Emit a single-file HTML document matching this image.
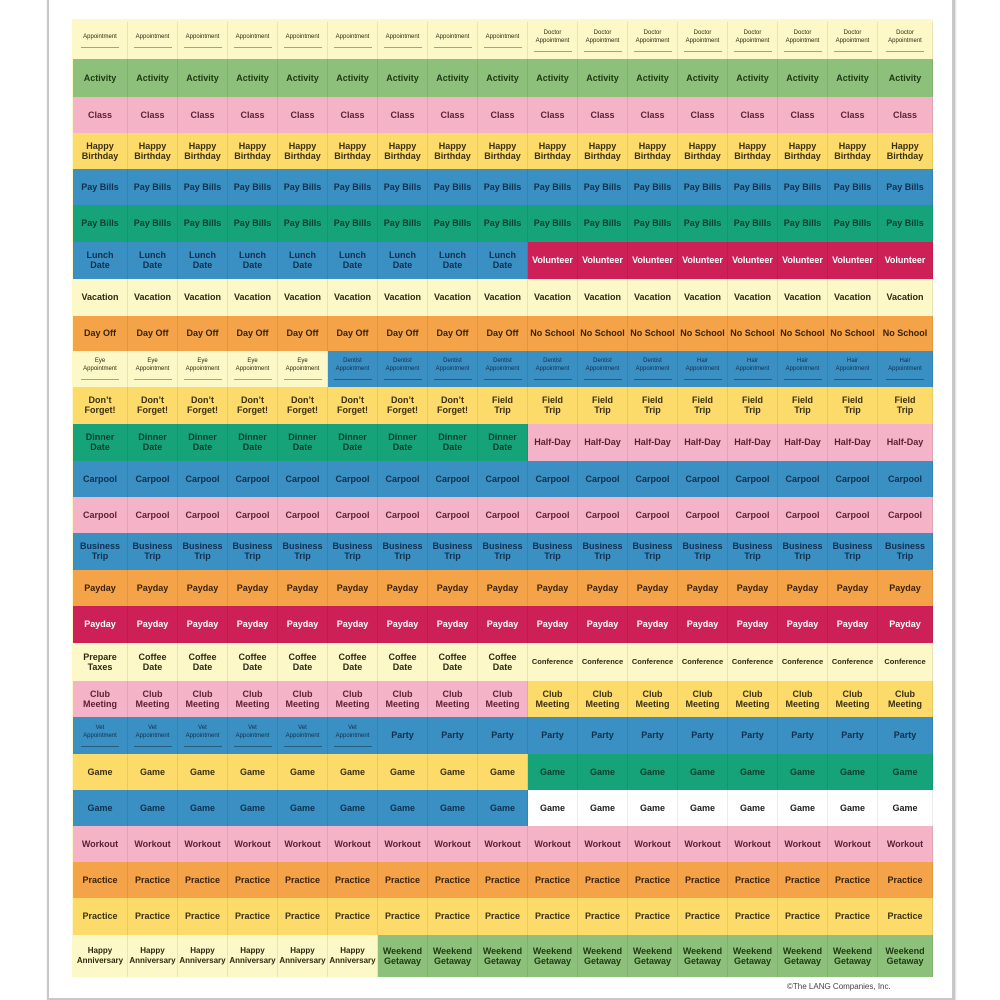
<!DOCTYPE html>
<html><head><meta charset="utf-8"><style>
body{margin:0;width:1000px;height:1000px;background:#fff;position:relative;overflow:hidden;font-family:"Liberation Sans",Arial,sans-serif}
#sheet{position:absolute;left:47px;top:-4px;width:903px;height:1000px;border:2px solid #c8c8c8;box-shadow:1px 1px 2px #aaa;background:#fff}
#bg{position:absolute;left:72px;top:19px;width:861px;height:958px;background:#fdf8c8}
.c{position:absolute;box-sizing:border-box;display:flex;align-items:center;justify-content:center;text-align:center;font-weight:bold;font-size:9px;line-height:10px;border-right:1px solid rgba(0,0,0,0.08)}
.sm{font-size:6px;line-height:8px;font-weight:normal;flex-direction:column}
.sm i{display:block;width:38px;border-top:1px solid rgba(0,0,0,0.35);margin-top:6px}
#copy{position:absolute;left:787px;top:982px;font-size:8px;color:#444}
</style></head><body>
<div id="sheet"></div>
<div id="bg"></div>
<div id="grid"></div>
<div id="copy">©The LANG Companies, Inc.</div>
<script>
const colors={cr:['#fdf8c8','#2d2a10'],gr:['#8dc07a','#1e3a12'],pk:['#f5b3c8','#5a1f35'],ye:['#fddb6a','#3a3010'],bl:['#3a8fc3','#10304e'],te:['#16a37a','#0b3d2a'],mg:['#cc2057','#ffffff'],or:['#f4a348','#3a2208'],wh:['#ffffff','#222222']};
const rowCenters=[40,78,115,151,186,223,260,297,334,368,405,442,479,515,551,588,623,662,699,735,772,808,843,880,916,953];
const rows=[
[[9,'Appointment','cr',1],[8,'Doctor<br>Appointment','cr',1]],
[[17,'Activity','gr']],[[17,'Class','pk']],[[17,'Happy<br>Birthday','ye']],
[[17,'Pay Bills','bl']],[[17,'Pay Bills','te']],
[[9,'Lunch<br>Date','bl'],[8,'Volunteer','mg']],
[[17,'Vacation','cr']],
[[9,'Day Off','or'],[8,'No School','or']],
[[5,'Eye<br>Appointment','cr',1],[7,'Dentist<br>Appointment','bl',1],[5,'Hair<br>Appointment','bl',1]],
[[8,'Don\u2019t<br>Forget!','ye'],[9,'Field<br>Trip','ye']],
[[9,'Dinner<br>Date','te'],[8,'Half-Day','pk']],
[[17,'Carpool','bl']],[[17,'Carpool','pk']],[[17,'Business<br>Trip','bl']],
[[17,'Payday','or']],[[17,'Payday','mg']],
[[1,'Prepare<br>Taxes','cr'],[8,'Coffee<br>Date','cr'],[8,'Conference','cr',2]],
[[9,'Club<br>Meeting','pk'],[8,'Club<br>Meeting','ye']],
[[6,'Vet<br>Appointment','bl',1],[11,'Party','bl']],
[[9,'Game','ye'],[8,'Game','te']],
[[9,'Game','bl'],[8,'Game','wh']],
[[17,'Workout','pk']],[[17,'Practice','or']],[[17,'Practice','ye']],
[[6,'Happy<br>Anniversary','cr',3],[11,'Weekend<br>Getaway','gr']]
];
const x0=78,cw=50,top0=22,bot=977;
const g=document.getElementById('grid');
function bound(i){if(i===0)return top0;if(i===rowCenters.length)return bot;return (rowCenters[i-1]+rowCenters[i])/2;}
rows.forEach((segs,r)=>{
  const y1=bound(r),y2=bound(r+1);let col=0;
  segs.forEach(s=>{
    for(let k=0;k<s[0];k++){
      const d=document.createElement('div');
      
      
      d.className='c'+(s[3]===1?' sm':'');
      const c=colors[s[2]];
      let x=x0+col*cw,w=cw;
      if(col===0){x-=5;w+=5;} if(col===16){w+=5;}
      d.style.cssText+=`left:${x}px;top:${y1}px;width:${w}px;height:${y2-y1}px;background:${c[0]};color:${c[1]};`;
      if(s[3]===2)d.style.fontSize='7.5px';
      if(s[3]===3)d.style.fontSize='8px';
      d.innerHTML=s[3]===1?`<span>${s[1]}</span><i></i>`:s[1];
      g.appendChild(d);col++;
    }
  });
});
</script>
</body></html>
